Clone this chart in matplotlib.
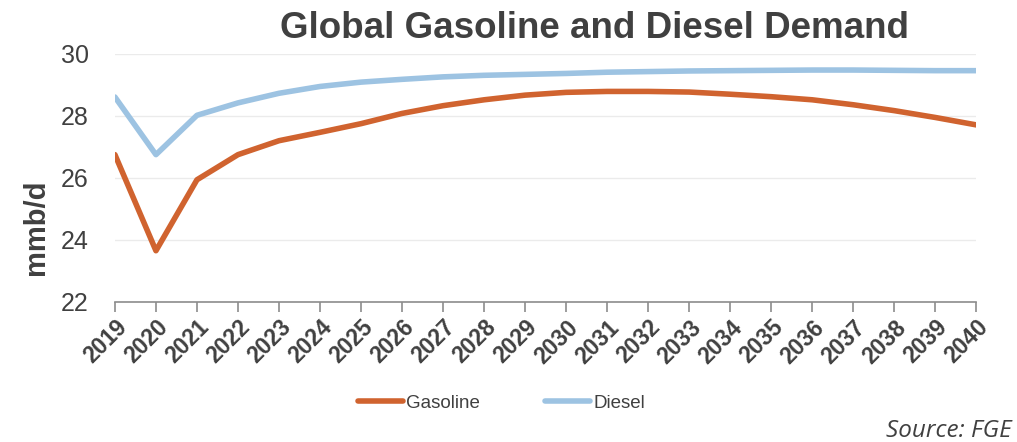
import matplotlib
matplotlib.use("Agg")
import matplotlib.pyplot as plt

plt.rcParams['font.family'] = ['Liberation Sans', 'DejaVu Sans']

# Global demand outlook, million barrels per day
years = [str(y) for y in range(2019, 2041)]
gasoline = [26.75, 23.65, 25.94, 26.75, 27.20, 27.47, 27.75, 28.08, 28.33, 28.52, 28.67,
            28.76, 28.79, 28.79, 28.77, 28.70, 28.62, 28.52, 28.36, 28.17, 27.95, 27.71]
diesel = [28.61, 26.75, 28.02, 28.42, 28.73, 28.95, 29.09, 29.18, 29.26, 29.31, 29.34,
          29.37, 29.41, 29.43, 29.45, 29.46, 29.47, 29.48, 29.48, 29.47, 29.46, 29.46]
yticks = [22, 24, 26, 28, 30]

TEXT = '#404040'
fig = plt.figure(figsize=(10.17, 4.42), dpi=100)
ax = fig.add_axes([0.113, 0.317, 0.847, 0.561])

x = list(range(len(years)))
ax.plot(x, gasoline, color='#D0632F', lw=4, solid_capstyle='round', label='Gasoline')
ax.plot(x, diesel, color='#9DC3E2', lw=4, solid_capstyle='round', label='Diesel')

ax.set_xlim(0, len(years) - 1)
ax.set_ylim(22, 30)
ax.set_yticks(yticks)
ax.set_yticklabels([str(v) for v in yticks], fontsize=18, color=TEXT)
ax.grid(axis='y', color='#EBEBEB', lw=1)
ax.set_axisbelow(True)

for s in ['left', 'right', 'top']:
    ax.spines[s].set_visible(False)
ax.spines['bottom'].set_color('#8C8C8C')
ax.spines['bottom'].set_linewidth(1.2)
ax.tick_params(axis='y', length=0, pad=19)
ax.tick_params(axis='x', direction='out', length=7, color='#8C8C8C', width=1.2, pad=3)

ax.set_xticks(x)
ax.set_xticklabels(years, rotation=45, ha='right', va='top', rotation_mode='anchor',
                   fontsize=16.5, fontweight='bold', color=TEXT)

ax.set_ylabel('mmb/d', fontsize=21, fontweight='bold', color=TEXT, va='center')
ax.yaxis.set_label_coords(-0.092, 0.30)

fig.text(0.585, 0.914, 'Global Gasoline and Diesel Demand', ha='center', va='baseline',
         fontsize=26.5, fontweight='bold', color=TEXT)

fig.legend(loc='center', bbox_to_anchor=(0.493, 0.088), ncol=2, frameon=False,
           fontsize=13.5, handlelength=2.4, handletextpad=0.15, columnspacing=3.5,
           labelcolor=TEXT)

fig.text(0.995, 0.025, 'Source: FGE', ha='right', va='center', fontsize=17.5,
         style='italic', color=TEXT, family=['Open Sans', 'DejaVu Sans'])

fig.savefig('out.png', dpi=100)
